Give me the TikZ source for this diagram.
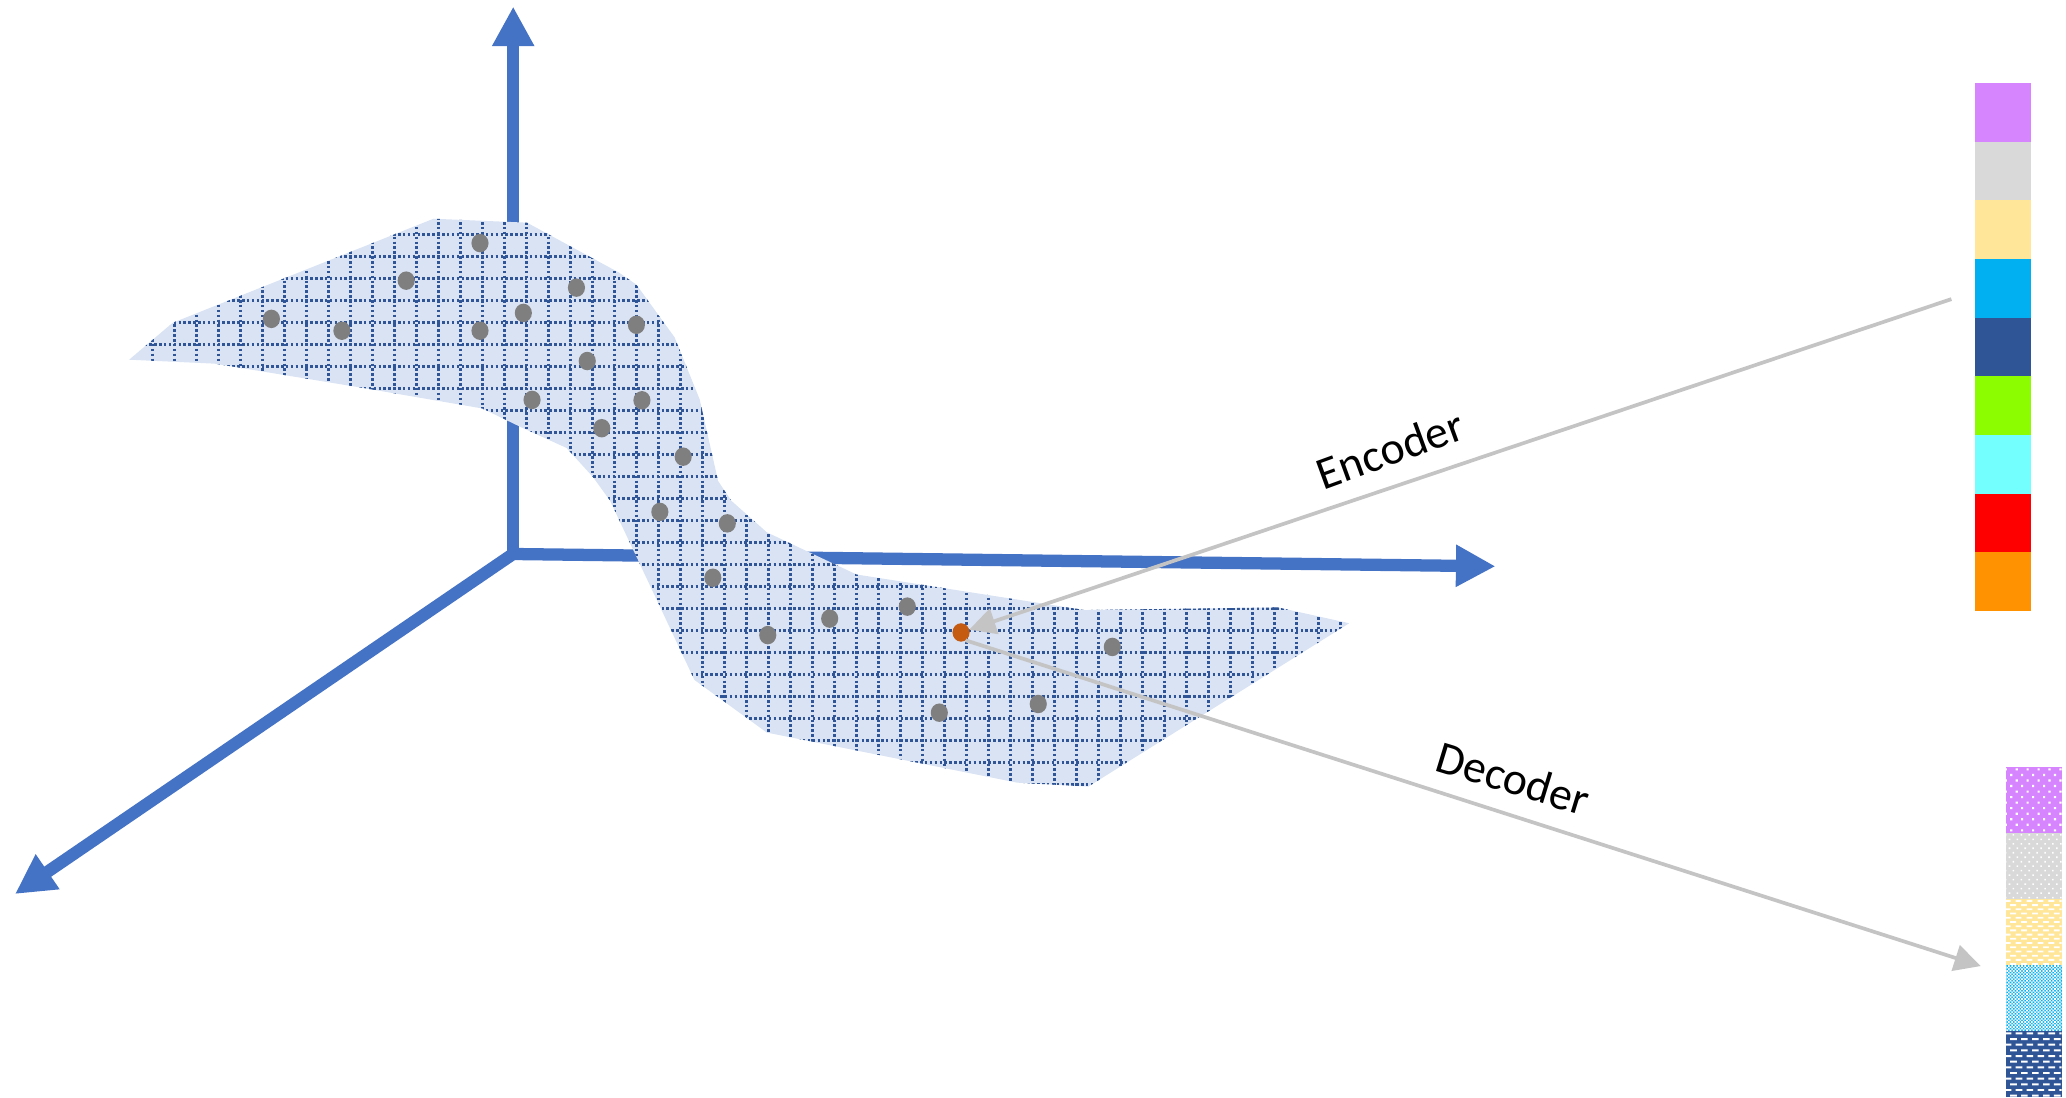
\documentclass[tikz,border=0pt]{standalone}
\usepackage{fontspec}
\setmainfont{Carlito}
\usetikzlibrary{arrows.meta,shapes.geometric}
\definecolor{axisblue}{HTML}{4472C4}
\definecolor{surfblue}{HTML}{DAE3F3}
\definecolor{gridblue}{HTML}{2F5597}
\definecolor{dotgray}{HTML}{7F7F7F}
\definecolor{dotorange}{HTML}{C55A11}
\definecolor{arrowgray}{HTML}{C4C4C4}
\definecolor{cpurple}{HTML}{D785FF}
\definecolor{cgray}{HTML}{D9D9D9}
\definecolor{cyellow}{HTML}{FFE699}
\definecolor{csky}{HTML}{00B0F0}
\definecolor{cnavy}{HTML}{2F5597}
\definecolor{cgreen}{HTML}{8CFC00}
\definecolor{ccyan}{HTML}{74FFFF}
\definecolor{cred}{HTML}{FF0000}
\definecolor{corange}{HTML}{FF9200}
\tikzset{
  axisarrow/.style={line width=0.093cm, draw=axisblue, line cap=butt,
    -{Triangle[length=0.3cm,width=0.3cm]}},
  dot/.style={ellipse, fill=dotgray, minimum width=0.13cm, minimum height=0.14cm, inner sep=0pt, outer sep=0pt},
  garrow/.style={line width=0.028cm, draw=arrowgray, -{Triangle[length=0.2cm,width=0.2cm]}},
  gridline/.style={draw=gridblue, line width=0.02cm, dash pattern=on 0.019cm off 0.018cm},
  topcell/.style={anchor=north west, minimum width=0.425cm, minimum height=0.4452cm, inner sep=0pt, outer sep=0pt},
  botcell/.style={anchor=north west, minimum width=0.422cm, minimum height=0.5008cm, inner sep=0pt, outer sep=0pt},
  lbl/.style={font=\fontsize{9.9pt}{12pt}\selectfont, inner sep=0pt}
}
% #1 cell name, #2 x period, #3 row step, #4 mark w, #5 mark h, #6 last row, #7 last col
\newcommand{\cellmarks}[7]{%
  \begin{scope}
    \clip (#1.north west) rectangle (#1.south east);
    \begin{scope}[shift={(#1.north west)}]
      \fill[white] foreach \r in {0,...,#6} { foreach \c in {0,...,#7}
        { ({(\c+0.5*mod(\r,2))*#2-1},{(\r+0.3)*#3}) rectangle ++(#4,#5) } };
    \end{scope}
  \end{scope}}
\begin{document}
\begin{tikzpicture}[x=0.01cm,y=-0.01cm]
\useasboundingbox (0,0) rectangle (1568,833);
% axes
\coordinate (O) at (389.5,420.4);
\coordinate (ytip) at (389.5,5);
\coordinate (xtip) at (1135,429.8);
\coordinate (ztip) at (11.4,678.5);
\coordinate (ybase) at (389.5,425);
\coordinate (xbase) at (385,420.4);
\coordinate (zbase) at (392.8,418.1);
\draw[axisarrow] (ybase) -- (ytip);
\draw[axisarrow] (xbase) -- (xtip);
\draw[axisarrow] (zbase) -- (ztip);
% surface
\def\surf{(98,273) -- (131,245) -- (329,166) -- (400,169) -- (470,207) -- (483,216) -- (512,256) -- (531,303) -- (545,365) -- (555,380) -- (582,404) -- (650,436) -- (823,463) -- (970,461) -- (1024,473) -- (826,597) -- (772,594) -- (582,556) -- (527,516) -- (463,380) -- (450,362) -- (430,340) -- (395,324) -- (366,310) -- (273,294) -- (163,276) -- cycle}
\fill[surfblue] \surf;
\begin{scope}
  \clip \surf;
  \draw[gridline] foreach \k in {0,...,55} { ({115.7+16.7*\k},150) -- ({115.7+16.7*\k},610) };
  \draw[gridline] foreach \k in {0,...,26} { (80,{177.8+16.7*\k}) -- (1040,{177.8+16.7*\k}) };
\end{scope}
% data points
\node[dot] (p1) at (206,242) {};
\node[dot] (p2) at (259.5,251) {};
\node[dot] (p3) at (308.3,213) {};
\node[dot] (p4) at (364.3,184.5) {};
\node[dot] (p5) at (364.3,251) {};
\node[dot] (p6) at (397.2,237.5) {};
\node[dot] (p7) at (437.5,218.3) {};
\node[dot] (p8) at (483,246.5) {};
\node[dot] (p9) at (445.7,274) {};
\node[dot] (p10) at (403.8,303.5) {};
\node[dot] (p11) at (487.2,303.8) {};
\node[dot] (p12) at (456.7,325) {};
\node[dot] (p13) at (518.5,346.6) {};
\node[dot] (p14) at (500.8,388.5) {};
\node[dot] (p15) at (552,397.2) {};
\node[dot] (p16) at (541,438.5) {};
\node[dot] (p17) at (582.7,482) {};
\node[dot] (p18) at (629.7,469.5) {};
\node[dot] (p19) at (688.6,460.4) {};
\node[dot] (p20) at (844.2,491) {};
\node[dot] (p21) at (712.9,540.9) {};
\node[dot] (p22) at (788,534.3) {};
\node[dot, fill=dotorange] (z) at (729.4,480) {};
% colour bar (code)
\node[topcell, fill=cpurple] (t1) at (1499,63) {};
\node[topcell, fill=cgray] (t2) at (1499,107.52) {};
\node[topcell, fill=cyellow] (t3) at (1499,152.04) {};
\node[topcell, fill=csky] (t4) at (1499,196.56) {};
\node[topcell, fill=cnavy] (t5) at (1499,241.08) {};
\node[topcell, fill=cgreen] (t6) at (1499,285.6) {};
\node[topcell, fill=ccyan] (t7) at (1499,330.12) {};
\node[topcell, fill=cred] (t8) at (1499,374.64) {};
\node[topcell, fill=corange] (t9) at (1499,419.16) {};
% reconstructed bar
\node[botcell, fill=cpurple] (b1) at (1522.5,581.9) {};
\node[botcell, fill=cgray] (b2) at (1522.5,631.98) {};
\node[botcell, fill=cyellow] (b3) at (1522.5,682.06) {};
\node[botcell, fill=csky] (b4) at (1522.5,732.14) {};
\node[botcell, fill=cnavy] (b5) at (1522.5,782.22) {};
\cellmarks{b1}{8.3}{4.2}{1.6}{1.6}{12}{6}
\cellmarks{b2}{6}{3.4}{1.2}{1.2}{15}{8}
\cellmarks{b3}{8.3}{3.2}{4.4}{1.4}{16}{6}
\cellmarks{b4}{2.5}{1.25}{1.25}{1.25}{40}{18}
\cellmarks{b5}{8.3}{4.3}{5}{1.5}{12}{6}
% encoder / decoder
\coordinate (encS) at (1481,227);
\coordinate (decE) at (1503.3,733.2);
\draw[garrow] (encS) -- (z);
\draw[garrow] (z.-60) -- (decE);
\node[lbl, rotate=20] (enc) at (1055,341) {Encoder};
\node[lbl, rotate=-17] (dec) at (1148.6,590.7) {Decoder};
\end{tikzpicture}
\end{document}
